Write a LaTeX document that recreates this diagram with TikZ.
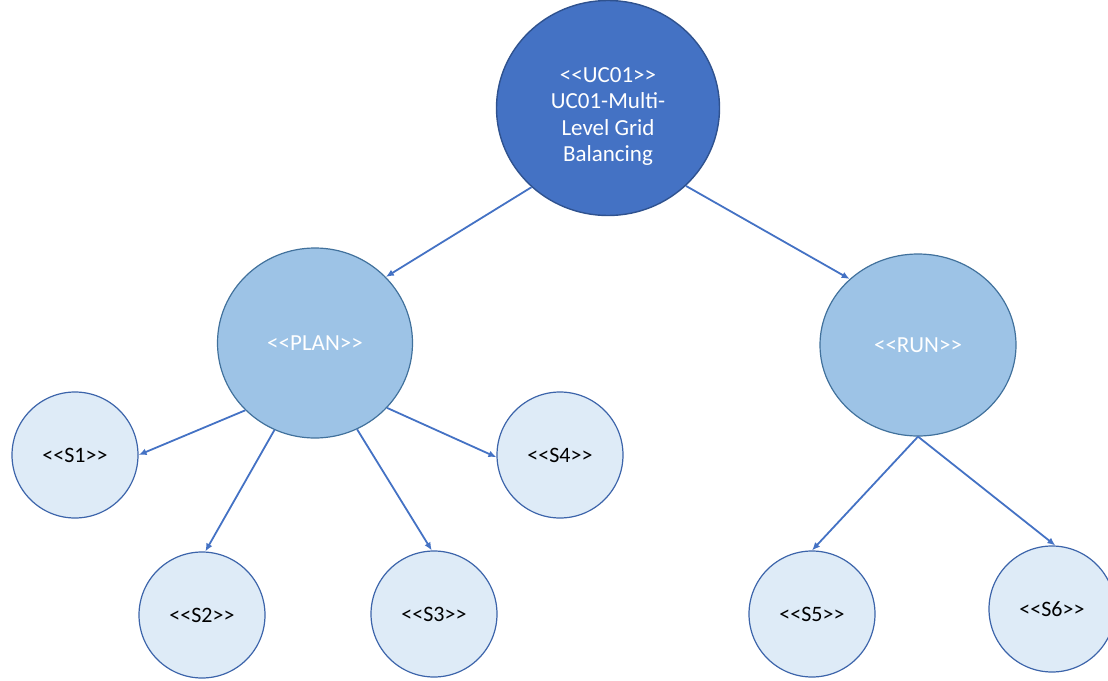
\documentclass[tikz,border=0pt]{standalone}
\usepackage{fontspec}
\setmainfont{Carlito}[Ligatures=TeXOff]
\usetikzlibrary{arrows.meta,positioning,shapes.geometric}
\definecolor{ucblue}{RGB}{68,114,196}
\definecolor{ucedge}{RGB}{47,82,143}
\definecolor{phasefill}{RGB}{157,195,230}
\definecolor{phaseedge}{RGB}{65,113,156}
\definecolor{scenfill}{RGB}{222,235,247}
\definecolor{scenedge}{RGB}{60,100,170}
\tikzset{
  usecase/.style={ellipse,draw=ucedge,fill=ucblue,line width=0.7pt,inner sep=0pt},
  usecasetext/.style={text=white,align=center,inner sep=0pt,yshift=-4.3pt,
    font=\fontsize{11.5}{13.2}\selectfont},
  phase/.style={ellipse,draw=phaseedge,fill=phasefill,line width=0.6pt,text=white,
    inner sep=0pt,font=\fontsize{11.5}{13}\selectfont},
  scenario/.style={ellipse,draw=scenedge,fill=scenfill,line width=0.6pt,text=black,
    minimum width=63pt,minimum height=63pt,inner sep=0pt,font=\fontsize{11}{13}\selectfont},
  link/.style={ucblue,line width=0.9pt,-{Latex[length=4pt,width=3.4pt]}}
}
\begin{document}
\begin{tikzpicture}[x=0.5pt,y=-0.5pt]
  \useasboundingbox (0,0) rectangle (1108,680);
  % use case at the top
  \node[usecase,minimum width=111.5pt,minimum height=107.5pt,
    label={[usecasetext]center:<<UC01>>\\UC01-Multi-\\Level Grid\\Balancing}]
    (uc) at (608,108) {};
  % phases
  \node[phase,minimum width=97.5pt,minimum height=95pt] (plan) at (315,343) {<<PLAN>>};
  \node[phase,minimum width=98pt,minimum height=91pt] (run) at (918,345) {<<RUN>>};
  % scenarios
  \node[scenario] (s1) at (75,455) {<<S1>>};
  \node[scenario] (s2) at (202,615) {<<S2>>};
  \node[scenario] (s3) at (434,614) {<<S3>>};
  \node[scenario] (s4) at (560,455) {<<S4>>};
  \node[scenario] (s5) at (812,614) {<<S5>>};
  \node[scenario] (s6) at (1052,609) {<<S6>>};
  % connectors
  \draw[link] (uc.226) -- (plan.43);
  \draw[link] (uc.315) -- (run.136);
  \draw[link] (plan.224) -- (s1.0);
  \draw[link] (plan.245) -- (s2.87);
  \draw[link] (plan.296) -- (s3.92);
  \draw[link] (plan.318) -- (s4.182);
  \draw[link] (run.south) -- (s5.90);
  \draw[link] (run.south) -- (s6.87);
\end{tikzpicture}
\end{document}
